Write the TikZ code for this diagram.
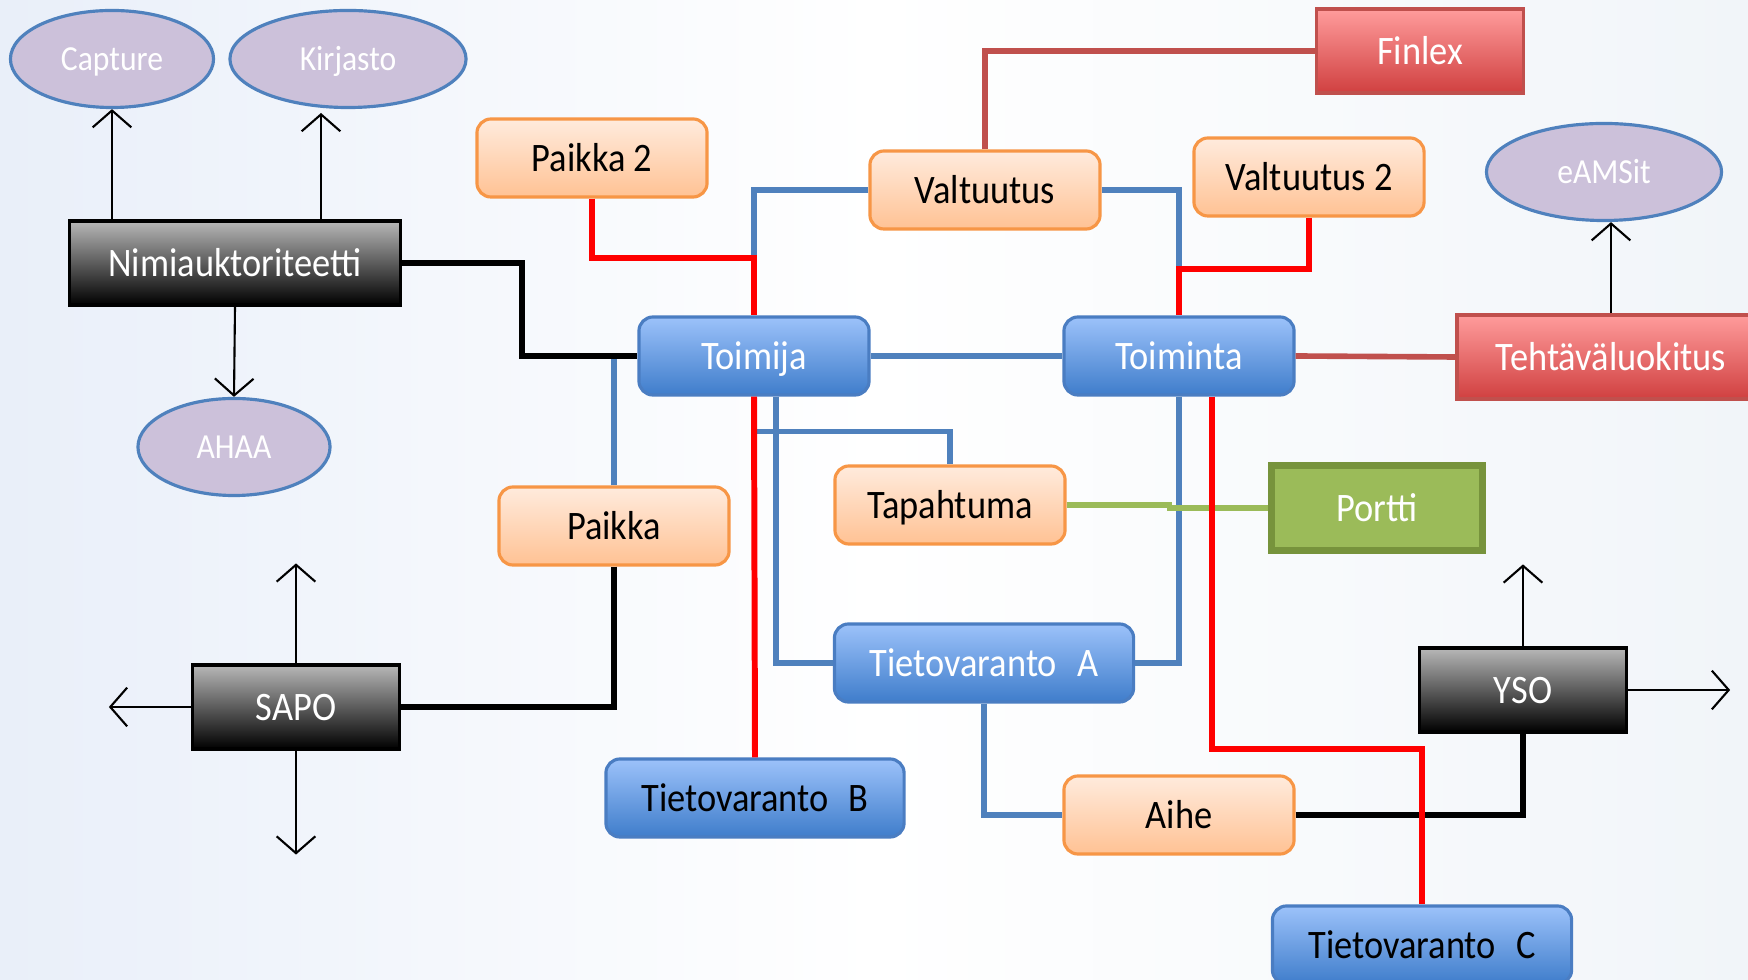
\documentclass[tikz,border=0pt]{standalone}
\usepackage{fontspec}
\setmainfont{Carlito}[FakeStretch=0.9]
\usetikzlibrary{shapes.geometric,arrows.meta}

\definecolor{bgl}{HTML}{E9EFF9}
\definecolor{bgr}{HTML}{F1F5F9}
\definecolor{ortop}{HTML}{FFEBDD}
\definecolor{orbot}{HTML}{FFC294}
\definecolor{orline}{HTML}{F79646}
\definecolor{bltop}{HTML}{9CC2FA}
\definecolor{blbot}{HTML}{3F7DCB}
\definecolor{blline}{HTML}{4A7DC2}
\definecolor{rdtop}{HTML}{FF9C9C}
\definecolor{rdbot}{HTML}{D04040}
\definecolor{rdline}{HTML}{C0504D}
\definecolor{ovfill}{HTML}{CCC1DA}
\definecolor{ovline}{HTML}{4F81BD}
\definecolor{grfill}{HTML}{9BBB59}
\definecolor{grline}{HTML}{77933C}
\definecolor{linkblue}{HTML}{4F81BD}

\newcommand\boxfont{\fontsize{11.5}{12}\selectfont}
\newcommand\ovalfont{\fontsize{10}{11}\selectfont}

\tikzset{
  box/.style={minimum width=2.3cm, minimum height=0.78cm, inner sep=0pt, text height=0.76em, text depth=0pt, font=\boxfont},
  orbox/.style={box, rounded corners=4pt, draw=orline, line width=0.9pt, top color=ortop, bottom color=orbot},
  blbox/.style={box, rounded corners=4pt, draw=blline, line width=0.9pt, top color=bltop, bottom color=blbot, text=white},
  bkbox/.style={box, minimum width=2.07cm, minimum height=0.84cm, draw=black, line width=0.9pt, top color=black!28, bottom color=black, text=white},
  rdbox/.style={box, minimum width=2.07cm, minimum height=0.84cm, draw=rdline, line width=0.9pt, top color=rdtop, bottom color=rdbot, text=white},
  oval/.style={ellipse, draw=ovline, line width=0.9pt, fill=ovfill, text=white, inner sep=0pt, minimum height=0.97cm, text height=0.66em, text depth=0pt, font=\ovalfont},
  link/.style={line width=1.8pt},
  bluelink/.style={line width=1.5pt, draw=linkblue},
  redlink/.style={line width=1.7pt, draw=red},
  brownlink/.style={line width=1.6pt, draw=rdline},
  greenlink/.style={line width=1.5pt, draw=grfill},
  arr/.style={line width=0.6pt, -{Straight Barb[length=4.8pt,width=11pt]}}
}

\begin{document}
\begin{tikzpicture}[x=0.01cm,y=-0.01cm]
\useasboundingbox (0,0) rectangle (1748,980);
\shade[left color=bgl, right color=white] (0,0) rectangle (875,980);
\shade[left color=white, right color=bgr] (874,0) rectangle (1748,980);

% lavender ovals
\node[oval, minimum width=2.03cm] (capture) at (112,59) {Capture};
\node[oval, minimum width=2.36cm] (kirjasto) at (348,59) {Kirjasto};
\node[oval, minimum width=1.92cm] (ahaa) at (234,447) {AHAA};
\node[oval, minimum width=2.35cm] (eamsit) at (1604,172) {eAMSit};

% black boxes
\node[bkbox, minimum width=3.31cm] (nimi) at (235,263) {Nimiauktoriteetti};
\node[bkbox] (sapo) at (296,707) {SAPO};
\node[bkbox] (yso) at (1523,690) {YSO};

% red boxes
\node[rdbox] (finlex) at (1420,51) {Finlex};
\node[rdbox, minimum width=3.08cm] (teht) at (1611,357) {Tehtäväluokitus};

% orange boxes
\node[orbox] (paikka2) at (592,158) {Paikka 2};
\node[orbox] (valt) at (985,190) {Valtuutus};
\node[orbox] (valt2) at (1309,177) {Valtuutus 2};
\node[orbox] (paikka) at (614,526) {Paikka};
\node[orbox] (tapaht) at (950,505) {Tapahtuma};
\node[orbox] (aihe) at (1179,815) {Aihe};

% blue boxes
\node[blbox] (toimija) at (754,356) {Toimija};
\node[blbox] (toiminta) at (1179,356) {Toiminta};
\node[blbox, minimum width=2.99cm] (tva) at (984,663) {Tietovaranto\enspace A};
\node[blbox, minimum width=2.98cm, text=black] (tvb) at (755,798) {Tietovaranto\enspace B};
\node[blbox, minimum width=2.99cm, text=black] (tvc) at (1422,945) {Tietovaranto\enspace C};

% green box
\node[box, minimum width=2.11cm, minimum height=0.85cm, draw=grline, line width=2pt, fill=grfill, text=white] (portti) at (1377,508) {Portti};

% thin arrows
\coordinate (kirin) at (321,113);
\draw[arr] (nimi.north -| capture.south) -- (capture.south);
\draw[arr] (nimi.north -| kirin) -- (kirin);
\draw[arr] (nimi.south) -- (ahaa.north);
\draw[arr] (sapo.north) -- ++(0,-100);
\draw[arr] (sapo.west) -- ++(-82,0);
\draw[arr] (sapo.south) -- ++(0,104);
\draw[arr] (yso.north) -- ++(0,-82);
\draw[arr] (yso.east) -- ++(102,0);
\draw[arr] (teht.north) -- (teht.north |- eamsit.south);

% blue links
\draw[bluelink] (valt.west) -| (toimija.north);
\draw[bluelink] (valt.east) -| (toiminta.north);
\draw[bluelink] (toimija.east) -- (toiminta.west);
\draw[bluelink] (paikka.north) -- (paikka.north |- toimija.west);
\draw[bluelink] ([xshift=0.22cm]toimija.south) |- (tva.west);
\draw[bluelink] ([yshift=-0.35cm]toimija.south) -| (tapaht.north);
\draw[bluelink] (toiminta.south) |- (tva.east);
\draw[bluelink] (tva.south) |- (aihe.west);

% black links
\draw[link] (nimi.east) -- ++(120,0) |- (toimija.west);
\draw[link] (paikka.south) |- (sapo.east);
\draw[link] (aihe.east) -| (yso.south);

% green and brown links
\draw[greenlink] (tapaht.east) -- ++(103,0) |- (portti.west);
\draw[brownlink] (valt.north) |- (finlex.west);
\draw[brownlink] (toiminta.east) -- (teht.west);

% red links
\draw[redlink] (paikka2.south) -- ++(0,59) -| (toimija.north);
\draw[redlink] (valt2.south) -- ++(0,51) -| (toiminta.north);
\draw[redlink] (toimija.south) -- (tvb.north);
\draw[redlink] ([xshift=0.33cm]toiminta.south) -- ++(0,352) -| (tvc.north);
\end{tikzpicture}
\end{document}
